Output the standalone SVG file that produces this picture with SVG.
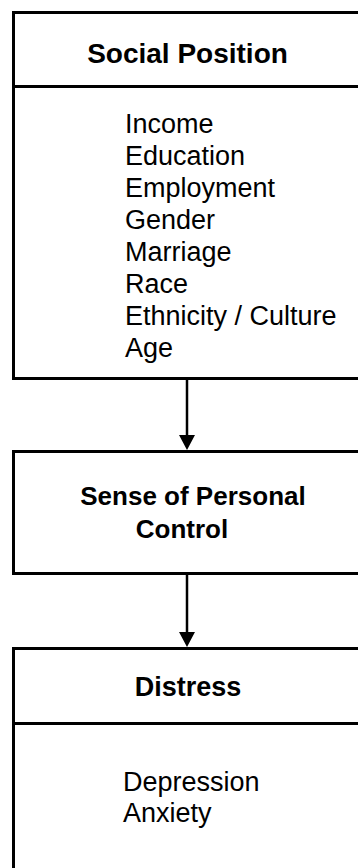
<svg xmlns="http://www.w3.org/2000/svg" width="358" height="868" viewBox="0 0 358 868">
  <style>
    .box { fill: #ffffff; stroke: #000000; stroke-width: 3; }
    .rule { stroke: #000000; stroke-width: 3; }
    .title { font-family: "Liberation Sans", Arial, sans-serif; font-weight: bold; fill: #000000; text-anchor: middle; }
    .item { font-family: "Liberation Sans", Arial, sans-serif; font-size: 27px; fill: #000000; }
    .link { stroke: #000000; stroke-width: 2.5; fill: none; }
    .head { fill: #000000; }
  </style>
  <rect width="358" height="868" fill="#ffffff"/>

  <!-- Social position: header plus list of indicators -->
  <g id="social-position">
    <rect class="box" x="13.5" y="12.5" width="360" height="366"/>
    <line class="rule" x1="13.5" y1="86.5" x2="373" y2="86.5"/>
    <text class="title" x="187.5" y="63" style="font-size:28px">Social Position</text>
    <text class="item" x="125" y="133">Income</text>
    <text class="item" x="125" y="165">Education</text>
    <text class="item" x="125" y="197">Employment</text>
    <text class="item" x="125" y="229">Gender</text>
    <text class="item" x="125" y="261">Marriage</text>
    <text class="item" x="125" y="293">Race</text>
    <text class="item" x="125" y="325">Ethnicity / Culture</text>
    <text class="item" x="125" y="357">Age</text>
  </g>

  <!-- Mediator -->
  <g id="personal-control">
    <rect class="box" x="13.5" y="451.5" width="360" height="122"/>
    <text class="title" x="193" y="505" style="font-size:26px">Sense of Personal</text>
    <text class="title" x="182" y="538" style="font-size:26px">Control</text>
  </g>

  <!-- Outcome: header plus list of measures -->
  <g id="distress">
    <rect class="box" x="13.5" y="648.5" width="360" height="240"/>
    <line class="rule" x1="13.5" y1="723.5" x2="373" y2="723.5"/>
    <text class="title" x="188" y="696" style="font-size:27px">Distress</text>
    <text class="item" x="123" y="791">Depression</text>
    <text class="item" x="123" y="822">Anxiety</text>
  </g>

  <g id="connectors">
    <line class="link" x1="187" y1="380" x2="187" y2="440"/>
    <path class="head" d="M179,435 L195,435 L187,450 Z"/>
    <line class="link" x1="187" y1="575" x2="187" y2="636"/>
    <path class="head" d="M179,632 L195,632 L187,647 Z"/>
  </g>
</svg>
